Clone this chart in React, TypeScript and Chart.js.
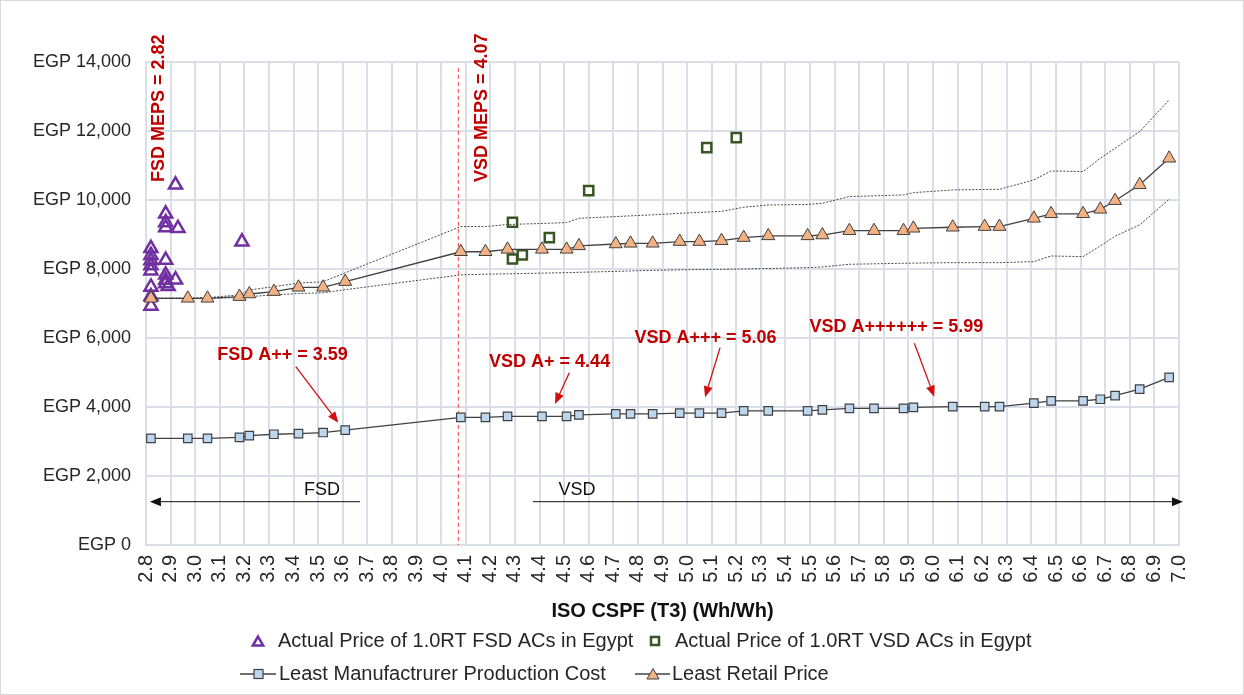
import React, { useEffect, useRef } from "react";
import { Chart, registerables } from "chart.js";
Chart.register(...registerables);

// ---- data ----
const cspfValues = [2.82, 2.97, 3.05, 3.18, 3.22, 3.32, 3.42, 3.52, 3.61, 4.08, 4.18, 4.27, 4.41, 4.51, 4.56, 4.71, 4.77, 4.86, 4.97, 5.05, 5.14, 5.23, 5.33, 5.49, 5.55, 5.66, 5.76, 5.88, 5.92, 6.08, 6.21, 6.27, 6.41, 6.48, 6.61, 6.68, 6.74, 6.84, 6.96];
const leastRetail = [7150, 7150, 7150, 7200, 7275, 7345, 7470, 7470, 7635, 8500, 8500, 8570, 8570, 8570, 8670, 8725, 8745, 8745, 8795, 8795, 8820, 8910, 8960, 8960, 8985, 9110, 9110, 9110, 9180, 9210, 9230, 9230, 9470, 9600, 9600, 9730, 9980, 10440, 11210];
const leastCost = [3090, 3090, 3090, 3120, 3170, 3210, 3230, 3260, 3330, 3700, 3700, 3730, 3730, 3730, 3770, 3800, 3800, 3800, 3820, 3820, 3820, 3885, 3885, 3885, 3915, 3960, 3960, 3960, 3990, 4010, 4010, 4010, 4110, 4175, 4175, 4225, 4330, 4520, 4860];
const retailUpper = [7150, 7160, 7170, 7250, 7390, 7490, 7590, 7630, 7890, 9230, 9230, 9290, 9320, 9345, 9470, 9520, 9540, 9570, 9615, 9640, 9670, 9790, 9855, 9870, 9905, 10100, 10120, 10147, 10213, 10292, 10305, 10311, 10582, 10843, 10822, 11210, 11500, 11982, 12900];
const retailLower = [7150, 7150, 7150, 7170, 7200, 7250, 7290, 7310, 7400, 7830, 7850, 7860, 7880, 7895, 7905, 7930, 7945, 7960, 7975, 7985, 7990, 8000, 8015, 8040, 8060, 8137, 8150, 8167, 8170, 8184, 8184, 8184, 8213, 8378, 8358, 8668, 8950, 9277, 10022];

const fsdActualX = [2.82, 2.82, 2.82, 2.82, 2.82, 2.82, 2.82, 2.82, 2.88, 2.88, 2.88, 2.88, 2.88, 2.88, 2.88, 2.89, 2.92, 2.92, 2.93, 3.19];
const fsdActualY = [8600, 8400, 8250, 8100, 7950, 7480, 7200, 6930, 9600, 9350, 9200, 8260, 7830, 7680, 7580, 7500, 10440, 7690, 9180, 8790];
const vsdActualX = [4.29, 4.29, 4.33, 4.44, 4.6, 5.08, 5.2];
const vsdActualY = [9355, 8290, 8410, 8910, 10270, 11520, 11810];

const seriesNames = [
  "Actual Price of 1.0RT FSD ACs in Egypt",
  "Actual Price of 1.0RT VSD ACs in Egypt",
  "Least Manufactrurer Production Cost",
  "Least Retail Price",
];
const xTitle = "ISO CSPF (T3) (Wh/Wh)";
const xMin = 2.8, xMax = 7.0, xStep = 0.1;
const yMin = 0, yMax = 14000, yStep = 2000;

const vsdMeps = 4.07;

// annotation labels (data coordinates)
const ratingNotes = [
  { text: "FSD A++ = 3.59", tx: 3.355, ty: 5508, ax: 3.409, ay: 5169, bx: 3.582, by: 3545 },
  { text: "VSD A+ = 4.44", tx: 4.441, ty: 5314, ax: 4.521, ay: 4995, bx: 4.463, by: 4088 },
  { text: "VSD A+++ = 5.06", tx: 5.075, ty: 6010, ax: 5.134, ay: 5720, bx: 5.073, by: 4282 },
  { text: "VSD A++++++ = 5.99", tx: 5.851, ty: 6329, ax: 5.924, ay: 5847, bx: 6.005, by: 4299 },
];
const mepsNotes = [
  { text: "FSD MEPS = 2.82", x: 2.853, y: 10523 },
  { text: "VSD MEPS = 4.07", x: 4.165, y: 10523 },
];
const rangeNotes = [
  { text: "FSD", tx: 3.516, ty: 1594, from: 3.67, to: 2.816, y: 1255 },
  { text: "VSD", tx: 4.552, ty: 1594, from: 4.373, to: 7.016, y: 1255 },
];

const FONT = "'Liberation Sans', Arial, sans-serif";
const GRID = "#D9DEE7";
const TXT = "#262626";
const RED = "#C00000";
const PURPLE = "#7030A0";
const GREEN = "#375623";
const ORANGE = "#F4B183";
const BLUE = "#BDD7EE";
const LINE = "#404040";

function drawArrow(ctx: CanvasRenderingContext2D, x1: number, y1: number, x2: number, y2: number, color: string, width: number, headLen: number, headW: number) {
  const ang = Math.atan2(y2 - y1, x2 - x1);
  const c = Math.cos(ang), s = Math.sin(ang);
  ctx.save();
  ctx.strokeStyle = color;
  ctx.fillStyle = color;
  ctx.lineWidth = width;
  ctx.setLineDash([]);
  ctx.beginPath();
  ctx.moveTo(x1, y1);
  ctx.lineTo(x2 - headLen * c, y2 - headLen * s);
  ctx.stroke();
  ctx.beginPath();
  ctx.moveTo(x2, y2);
  ctx.lineTo(x2 - headLen * c + (headW / 2) * s, y2 - headLen * s - (headW / 2) * c);
  ctx.lineTo(x2 - headLen * c - (headW / 2) * s, y2 - headLen * s + (headW / 2) * c);
  ctx.closePath();
  ctx.fill();
  ctx.restore();
}

function triPath(ctx: CanvasRenderingContext2D, cx: number, cy: number, r: number) {
  ctx.beginPath();
  ctx.moveTo(cx, cy - r);
  ctx.lineTo(cx + r * 0.866, cy + r * 0.5);
  ctx.lineTo(cx - r * 0.866, cy + r * 0.5);
  ctx.closePath();
}

const bgPlugin = {
  id: "bg",
  beforeDraw(chart: any) {
    const { ctx, width, height } = chart;
    ctx.save();
    ctx.fillStyle = "#ffffff";
    ctx.fillRect(0, 0, width, height);
    ctx.restore();
  },
  beforeDatasetsDraw(chart: any) {
    const { ctx, scales: { x, y } } = chart;
    const px = x.getPixelForValue(vsdMeps);
    ctx.save();
    ctx.strokeStyle = "#FF4040";
    ctx.lineWidth = 1;
    ctx.setLineDash([4, 3]);
    ctx.beginPath();
    ctx.moveTo(px, y.getPixelForValue(13830));
    ctx.lineTo(px, y.getPixelForValue(0));
    ctx.stroke();
    ctx.restore();
  },
};

const notesPlugin = {
  id: "notes",
  afterDraw(chart: any) {
    const { ctx, scales: { x, y }, width, height } = chart;
    ctx.save();
    ctx.fillStyle = RED;
    ctx.font = `bold 18px ${FONT}`;
    for (const m of mepsNotes) {
      ctx.save();
      ctx.translate(x.getPixelForValue(m.x), y.getPixelForValue(m.y));
      ctx.rotate(-Math.PI / 2);
      ctx.textAlign = "left";
      ctx.textBaseline = "middle";
      ctx.fillText(m.text, 0, 0);
      ctx.restore();
    }
    for (const n of ratingNotes) {
      ctx.fillStyle = RED;
      ctx.font = `bold 18px ${FONT}`;
      ctx.textAlign = "center";
      ctx.textBaseline = "middle";
      ctx.fillText(n.text, x.getPixelForValue(n.tx), y.getPixelForValue(n.ty));
      drawArrow(ctx, x.getPixelForValue(n.ax), y.getPixelForValue(n.ay), x.getPixelForValue(n.bx), y.getPixelForValue(n.by), "#D01010", 1.3, 11, 9);
    }
    for (const r of rangeNotes) {
      ctx.fillStyle = "#111";
      ctx.font = `18px ${FONT}`;
      ctx.textAlign = "center";
      ctx.textBaseline = "middle";
      ctx.fillText(r.text, x.getPixelForValue(r.tx), y.getPixelForValue(r.ty));
      const py = y.getPixelForValue(r.y);
      drawArrow(ctx, x.getPixelForValue(r.from), py, x.getPixelForValue(r.to), py, "#111", 1, 11, 9);
    }
    // legend
    ctx.font = `20px ${FONT}`;
    ctx.textAlign = "left";
    ctx.textBaseline = "middle";
    const row1 = 641, row2 = 674;
    ctx.strokeStyle = PURPLE; ctx.lineWidth = 2.5;
    triPath(ctx, 258, row1 + 1.5, 6);
    ctx.stroke();
    ctx.fillStyle = TXT;
    ctx.fillText(seriesNames[0], 278, row1);
    ctx.strokeStyle = GREEN; ctx.lineWidth = 2.5; ctx.fillStyle = "#fff";
    ctx.fillRect(651, row1 - 4, 8, 8);
    ctx.strokeRect(651, row1 - 4, 8, 8);
    ctx.fillStyle = TXT;
    ctx.fillText(seriesNames[1], 675, row1);
    ctx.strokeStyle = LINE; ctx.lineWidth = 1.3;
    ctx.beginPath(); ctx.moveTo(240, row2); ctx.lineTo(276, row2); ctx.stroke();
    ctx.fillStyle = BLUE;
    ctx.fillRect(254, row2 - 4.5, 9, 9);
    ctx.lineWidth = 1.2;
    ctx.strokeRect(254, row2 - 4.5, 9, 9);
    ctx.fillStyle = TXT;
    ctx.fillText(seriesNames[2], 279, row2);
    ctx.strokeStyle = LINE; ctx.lineWidth = 1.3;
    ctx.beginPath(); ctx.moveTo(635, row2); ctx.lineTo(670, row2); ctx.stroke();
    triPath(ctx, 653, row2 + 1.5, 7);
    ctx.fillStyle = ORANGE; ctx.fill();
    ctx.lineWidth = 1; ctx.stroke();
    ctx.fillStyle = TXT;
    ctx.fillText(seriesNames[3], 672, row2);
    ctx.strokeStyle = "#D9D9D9";
    ctx.lineWidth = 1;
    ctx.strokeRect(0.5, 0.5, width - 1, height - 1);
    ctx.restore();
  },
};

export default function App() {
  const ref = useRef<HTMLCanvasElement>(null);
  useEffect(() => {
    const pts = (xs: number[], ys: number[]) => xs.map((v, i) => ({ x: v, y: ys[i] }));
    const chart = new Chart(ref.current as HTMLCanvasElement, {
      type: "scatter",
      data: {
        datasets: [
          {
            label: seriesNames[3],
            data: pts(cspfValues, leastRetail),
            showLine: true,
            borderColor: LINE,
            borderWidth: 1.3,
            pointStyle: "triangle",
            pointRadius: 7.5,
            pointBackgroundColor: ORANGE,
            pointBorderColor: LINE,
            pointBorderWidth: 1,
            clip: false,
          } as any,
          {
            label: seriesNames[2],
            data: pts(cspfValues, leastCost),
            showLine: true,
            borderColor: LINE,
            borderWidth: 1.3,
            pointStyle: "rect",
            pointRadius: 6,
            pointBackgroundColor: BLUE,
            pointBorderColor: LINE,
            pointBorderWidth: 1.2,
            clip: false,
          } as any,
          {
            label: "Upper",
            data: pts(cspfValues, retailUpper),
            showLine: true,
            borderColor: "#4A4A4A",
            borderWidth: 1,
            borderDash: [2, 1.5],
            pointRadius: 0,
          } as any,
          {
            label: "Lower",
            data: pts(cspfValues, retailLower),
            showLine: true,
            borderColor: "#4A4A4A",
            borderWidth: 1,
            borderDash: [2, 1.5],
            pointRadius: 0,
          } as any,
          {
            label: seriesNames[0],
            data: pts(fsdActualX, fsdActualY),
            pointStyle: "triangle",
            pointRadius: 7.5,
            pointBackgroundColor: "rgba(0,0,0,0)",
            pointBorderColor: PURPLE,
            pointBorderWidth: 2.5,
            clip: false,
          } as any,
          {
            label: seriesNames[1],
            data: pts(vsdActualX, vsdActualY),
            pointStyle: "rect",
            pointRadius: 6.5,
            pointBackgroundColor: "#ffffff",
            pointBorderColor: GREEN,
            pointBorderWidth: 2.5,
            clip: false,
          } as any,
        ],
      },
      options: {
        responsive: false,
        animation: false,
        devicePixelRatio: 1,
        layout: { padding: { left: 0, right: 65, top: 62, bottom: 72 } },
        plugins: { legend: { display: false }, tooltip: { enabled: false } },
        scales: {
          x: {
            type: "linear",
            min: xMin,
            max: xMax,
            ticks: {
              stepSize: xStep,
              maxTicksLimit: 100,
              autoSkip: false,
              minRotation: 90,
              maxRotation: 90,
              padding: 10,
              color: TXT,
              font: { family: FONT, size: 20 },
              callback: (v: any) => Number(v).toFixed(1),
            },
            grid: { color: GRID, lineWidth: 2, drawTicks: false },
            border: { color: GRID, width: 2 },
            title: {
              display: true,
              text: xTitle,
              color: "#111",
              padding: 0,
              font: { family: FONT, size: 20, weight: "bold" },
            },
            afterFit: (s: any) => { s.height = 78; },
          },
          y: {
            min: yMin,
            max: yMax,
            ticks: {
              stepSize: yStep,
              padding: 15,
              color: TXT,
              font: { family: FONT, size: 18 },
              callback: (v: any) => "EGP " + Number(v).toLocaleString("en-US"),
            },
            grid: { color: GRID, lineWidth: 2, drawTicks: false },
            border: { color: GRID, width: 2 },
            afterFit: (s: any) => { s.width = 146; },
          },
        },
      } as any,
      plugins: [bgPlugin, notesPlugin],
    });
    return () => chart.destroy();
  }, []);
  return (
    <div style={{ position: "fixed", left: 0, top: 0, width: 1244, height: 695, background: "#fff" }}>
      <canvas ref={ref} width={1244} height={695} style={{ display: "block", width: 1244, height: 695 }} />
    </div>
  );
}
